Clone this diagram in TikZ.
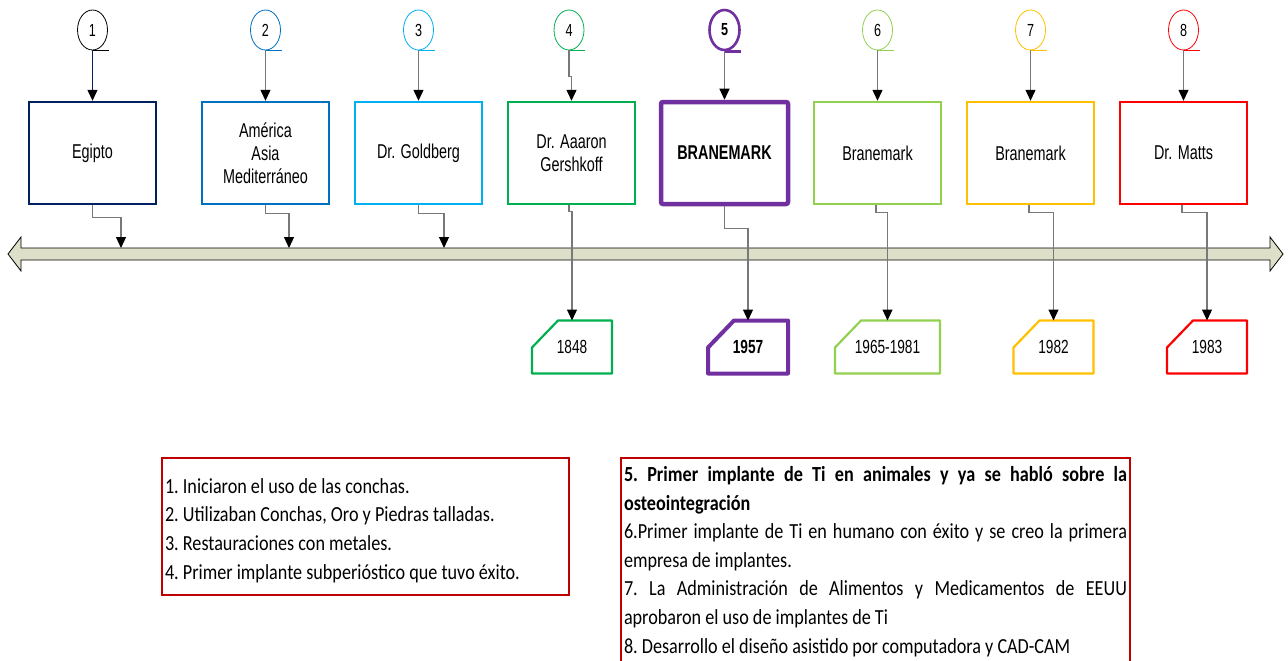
\documentclass[tikz,border=0pt]{standalone}
\usepackage{fontspec}
\setmainfont[FakeStretch=0.72]{Liberation Sans}
\newfontfamily\notefont[FakeStretch=0.845]{Carlito}
\usetikzlibrary{positioning, arrows.meta, calc, shapes.geometric}

\definecolor{cNavy}{RGB}{0,32,96}
\definecolor{cBlue}{RGB}{0,112,192}
\definecolor{cSky}{RGB}{0,176,240}
\definecolor{cGreen}{RGB}{0,176,80}
\definecolor{cPurple}{RGB}{112,48,160}
\definecolor{cLime}{RGB}{146,208,80}
\definecolor{cGold}{RGB}{255,192,0}
\definecolor{cRed}{RGB}{255,0,0}
\definecolor{noteRed}{RGB}{192,0,0}
\definecolor{lineBeige}{RGB}{221,223,201}
\definecolor{linkGray}{RGB}{120,120,120}

\begin{document}
\begin{tikzpicture}[x=1pt, y=-1pt,
	numcirc/.style={ellipse, draw, line width=0.8pt, minimum width=30pt, minimum height=40pt, inner sep=0pt, font=\fontsize{17.5}{17.5}\selectfont},
	evbox/.style={rectangle, draw, line width=2.4pt, minimum width=127pt, minimum height=102pt, inner sep=2pt, align=center, font=\fontsize{20}{23}\selectfont},
	datebox/.style={rectangle, outer sep=0pt, minimum width=80pt, minimum height=53pt, inner sep=0pt, font=\fontsize{19}{19}\selectfont},
	conn/.style={draw=linkGray, line width=1.2pt, -{Triangle[length=11pt, width=10pt, color=black]}},
	notebox/.style={draw=noteRed, line width=2pt, anchor=north west, inner sep=3pt, font=\notefont\fontsize{21.5}{28.6}\selectfont\frenchspacing}]
	\useasboundingbox (0,0) rectangle (1288,661);

	% timeline
	\draw[fill=lineBeige, line width=0.8pt] (8,254) -- (21,237) -- (21,248) -- (1270,248) -- (1270,237) -- (1283,254) -- (1270,271) -- (1270,260) -- (21,260) -- (21,271) -- cycle;
	\coordinate (t1) at (121,248);
	\coordinate (t2) at (289,248);
	\coordinate (t3) at (444,248);

	% numbered circles
	\foreach \i/\xx/\col in {1/92.5/black, 2/265.5/cBlue, 3/418.5/cSky, 4/569/cGreen, 6/877.5/cLime, 7/1030.5/cGold, 8/1183.5/cRed}{
		\node[numcirc, draw=\col] (n\i) at (\xx,30) {\i};
		\draw[\col, line width=0.8pt] (n\i.south) -- ++(16,0);
	}
	\node[numcirc, draw=cPurple, line width=2.6pt, font=\fontsize{17.5}{17.5}\selectfont\bfseries] (n5) at (724.5,30) {5};
	\draw[cPurple, line width=2.6pt] (n5.south) -- ++(16,0);

	% event boxes
	\node[evbox, draw=cNavy] (b1) at (92.5,153) {Egipto};
	\node[evbox, draw=cBlue] (b2) at (265.5,153) {América\\Asia\\Mediterráneo};
	\node[evbox, draw=cSky] (b3) at (418.5,153) {Dr. Goldberg};
	\node[evbox, draw=cGreen] (b4) at (571.5,153) {Dr. Aaaron\\Gershkoff};
	\node[evbox, draw=cPurple, line width=4.5pt, rounded corners=2pt, font=\fontsize{20}{23}\selectfont\bfseries] (b5) at (724.5,153) {BRANEMARK};
	\node[evbox, draw=cLime] (b6) at (877.5,153) {Branemark};
	\node[evbox, draw=cGold] (b7) at (1030.5,153) {Branemark};
	\node[evbox, draw=cRed] (b8) at (1183.5,153) {Dr. Matts};

	% date boxes (cut corner drawn round each node)
	\node[datebox] (d4) at (572,347) {1848};
	\node[datebox, font=\fontsize{19}{19}\selectfont\bfseries] (d5) at (748,347) {1957};
	\node[datebox, minimum width=105pt] (d6) at (887.5,347) {1965-1981};
	\node[datebox] (d7) at (1053.5,347) {1982};
	\node[datebox] (d8) at (1207,347) {1983};
	\foreach \d/\col/\lw in {d4/cGreen/2.2pt, d5/cPurple/4pt, d6/cLime/2.2pt, d7/cGold/2.2pt, d8/cRed/2.2pt}{
		\draw[\col, line width=\lw, line join=round] ([xshift=26pt]\d.north west) -- (\d.north east) -- (\d.south east) -- (\d.south west) -- ([yshift=-27pt]\d.north west) -- cycle;
	}

	% circles to boxes
	\draw[conn, draw=cNavy] (n1.south) -- (b1.north);
	\foreach \i in {2,3,5,6,7,8}{
		\draw[conn] (n\i.south) -- (b\i.north);
	}
	\draw[conn] (n4.south) -- ++(0,26) -| (b4.north);

	% boxes to timeline
	\draw[conn] (b1.south) -- ++(0,12) -| (t1);
	\draw[conn] (b2.south) -- ++(0,8) -| (t2);
	\draw[conn] (b3.south) -- ++(0,8) -| (t3);
	\draw[conn] ([xshift=-2.5pt]b4.south) -- ++(0,6) -| (d4.north);
	\draw[conn] (b5.south) -- ++(0,22) -| (d5.north);
	\draw[conn] ([xshift=-1.5pt]b6.south) -- ++(0,7) -| (d6.north);
	\draw[conn] ([xshift=-1.5pt]b7.south) -- ++(0,7) -| (d7.north);
	\draw[conn] ([xshift=-1.5pt]b8.south) -- ++(0,7) -| (d8.north);

	% notes
	\node[notebox, text width=401pt, minimum height=137pt, align=flush left] (notesA) at (161,457) {\rule{0pt}{23pt}1. Iniciaron el uso de las conchas.\\2. Utilizaban Conchas, Oro y Piedras talladas.\\3. Restauraciones con metales.\\4. Primer implante subperióstico que tuvo éxito.};
	\node[notebox, text width=503pt, minimum height=207pt, align=justify] (notesB) at (620,457) {{\bfseries 5. Primer implante de Ti en animales y ya se habló sobre la\linebreak osteointegración}\par
		6.Primer implante de Ti en humano con éxito y se creo la primera\linebreak empresa de implantes.\par
		7. La Administración de Alimentos y Medicamentos de EEUU\linebreak aprobaron el uso de implantes de Ti\par
		8. Desarrollo el diseño asistido por computadora y CAD-CAM};
\end{tikzpicture}
\end{document}
